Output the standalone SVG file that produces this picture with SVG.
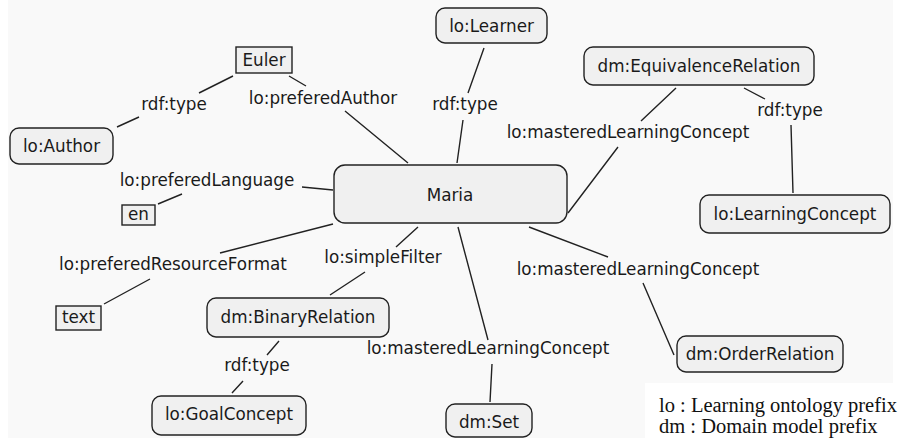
<svg xmlns="http://www.w3.org/2000/svg" width="901" height="438" viewBox="0 0 901 438">
<style>
.n{fill:#f0f0f0;stroke:#222;stroke-width:1.4}
.t{font-family:"DejaVu Sans",Verdana,sans-serif;font-size:16.8px;fill:#1a1a1a;text-anchor:middle}
.e{stroke:#222;stroke-width:1.4;fill:none}
.lg{font-family:"Liberation Serif","Times New Roman",serif;font-size:20.5px;fill:#111}
</style>
<rect width="901" height="438" fill="#ffffff"/>
<path d="M8 0H893V383H645V438H8Z" fill="#f9f9f9"/>
<g id="connectors">
<path class="e" d="M233 76L199 93M139 117L117 127"/>
<path class="e" d="M289 76L306 86M345 111L408 163"/>
<path class="e" d="M484 48L468 93M463 120L457 163"/>
<path class="e" d="M676 88L641 121M618 147L568 213"/>
<path class="e" d="M744 88L765 99M791 125L793 193"/>
<path class="e" d="M333 190L302 187M182 194L158 204"/>
<path class="e" d="M333 224L220 253M150 279L104 304"/>
<path class="e" d="M418 227L396 247M365 272L330 295"/>
<path class="e" d="M279 341L267 355M243 381L232 393"/>
<path class="e" d="M458 227L488 340M492 364L490 402"/>
<path class="e" d="M529 227L608 257M643 283L674 355"/>
<text class="t" x="174" y="110">rdf:type</text>
<text class="t" x="323" y="104">lo:preferedAuthor</text>
<text class="t" x="465" y="110">rdf:type</text>
<text class="t" x="628" y="138">lo:masteredLearningConcept</text>
<text class="t" x="790" y="116">rdf:type</text>
<text class="t" x="207" y="186">lo:preferedLanguage</text>
<text class="t" x="173" y="270">lo:preferedResourceFormat</text>
<text class="t" x="383" y="263">lo:simpleFilter</text>
<text class="t" x="257" y="371">rdf:type</text>
<text class="t" x="488" y="354">lo:masteredLearningConcept</text>
<text class="t" x="638" y="275">lo:masteredLearningConcept</text>
</g>
<g id="maria"><rect class="n" x="334" y="165" width="233" height="58" rx="11"/><text class="t" x="450" y="201">Maria</text></g>
<g id="learner"><rect class="n" x="436" y="8" width="111" height="35" rx="9"/><text class="t" x="491.5" y="32">lo:Learner</text></g>
<g id="equivalence"><rect class="n" x="584" y="47" width="230" height="38" rx="9"/><text class="t" x="699" y="72">dm:EquivalenceRelation</text></g>
<g id="euler"><rect class="n" x="236" y="47" width="56" height="26"/><text class="t" x="264" y="66">Euler</text></g>
<g id="author"><rect class="n" x="10" y="128" width="103" height="36" rx="9"/><text class="t" x="61.5" y="152">lo:Author</text></g>
<g id="en"><rect class="n" x="122" y="205" width="33" height="20"/><text class="t" x="138.5" y="220">en</text></g>
<g id="learningconcept"><rect class="n" x="700" y="195" width="190" height="38" rx="9"/><text class="t" x="795" y="220">lo:LearningConcept</text></g>
<g id="text"><rect class="n" x="56" y="306" width="45" height="24"/><text class="t" x="78.5" y="323">text</text></g>
<g id="binaryrelation"><rect class="n" x="207" y="298" width="182" height="39" rx="9"/><text class="t" x="298" y="323">dm:BinaryRelation</text></g>
<g id="goalconcept"><rect class="n" x="152" y="396" width="154" height="39" rx="9"/><text class="t" x="229" y="420">lo:GoalConcept</text></g>
<g id="orderrelation"><rect class="n" x="677" y="336" width="166" height="36" rx="9"/><text class="t" x="760" y="360">dm:OrderRelation</text></g>
<g id="set"><rect class="n" x="446" y="404" width="86" height="33" rx="9"/><text class="t" x="489" y="428">dm:Set</text></g>
<g id="legend">
<text class="lg" x="659" y="412">lo : Learning ontology prefix</text>
<text class="lg" x="659" y="433">dm : Domain model prefix</text>
</g>
</svg>
